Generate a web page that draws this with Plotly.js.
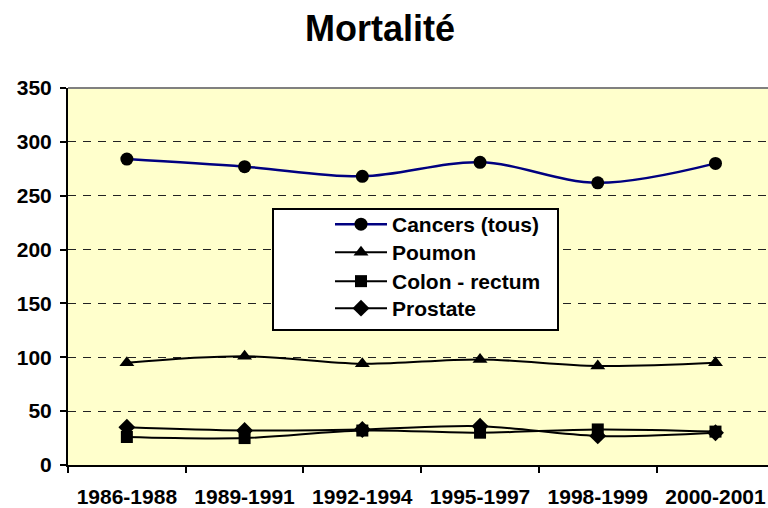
<!DOCTYPE html>
<html>
<head>
<meta charset="utf-8">
<script src="https://cdn.plot.ly/plotly-3.0.1.min.js"></script>
<style>html,body{margin:0;padding:0;background:#fff;overflow:hidden}</style>
</head>
<body>
<div id="chart" style="width:768px;height:508px"></div>
<script>
const categories = ['1986-1988', '1989-1991', '1992-1994', '1995-1997', '1998-1999', '2000-2001'];
const cancers = [284, 277, 268, 281, 262, 280];
const poumon = [95, 101, 94, 98, 92, 95];
const colon = [26, 25, 32, 30, 33, 31];
const prostate = [35, 32, 33, 36, 27, 30];
const yTicks = [0, 50, 100, 150, 200, 250, 300, 350];

const FONT = 'Liberation Sans, Arial, sans-serif';
const W = 768, H = 508, L = 68, R = 0, T = 88, B = 43;
const pw = W - L - R, ph = H - T - B;
function px2x(px) { return (px - L) / pw; }
function py2y(py) { return (H - B - py) / ph; }

function mk(name, y, color, sym, size, width, leg) {
  return {
    type: 'scatter', mode: 'lines+markers', name: name, legend: leg,
    x: categories, y: y,
    line: {color: color, width: width, shape: 'spline', smoothing: 1},
    marker: {color: '#000', symbol: sym, size: size}
  };
}
const data = [
  mk('Cancers (tous)', cancers, '#000080', 'circle', 13, 2.5, 'legend'),
  mk('Poumon', poumon, '#000', 'triangle-up', 13, 2, 'legend2'),
  mk('Colon - rectum', colon, '#000', 'square', 12, 2, 'legend3'),
  mk('Prostate', prostate, '#000', 'diamond', 13, 2, 'legend4')
];

function leg(topPx) {
  return {x: px2x(330), y: py2y(topPx), xanchor: 'left', yanchor: 'top',
          bgcolor: 'rgba(0,0,0,0)', borderwidth: 0, itemwidth: 52,
          font: {family: FONT, size: 21, color: '#000', weight: 'bold'}};
}

const layout = {
  width: W, height: H,
  margin: {l: L, r: R, t: T, b: B, pad: 0},
  paper_bgcolor: '#fff',
  plot_bgcolor: '#FFFFCC',
  font: {family: FONT, size: 21, color: '#000', weight: 'bold'},
  title: {text: 'Mortalité', font: {family: FONT, size: 36, color: '#000', weight: 'bold'},
          x: 380 / W, xanchor: 'center', y: 1 - 28 / H, yanchor: 'middle'},
  showlegend: true,
  legend: leg(204),
  legend2: leg(232),
  legend3: leg(261),
  legend4: leg(288),
  xaxis: {
    type: 'category', categoryorder: 'array', categoryarray: categories,
    range: [-0.5, 5.446], tickson: 'boundaries',
    ticks: 'outside', ticklen: 6, tickwidth: 2, tickcolor: '#000',
    showline: true, linecolor: '#000', linewidth: 2,
    showgrid: false, zeroline: false, fixedrange: true,
    tickfont: {family: FONT, size: 21, color: '#000', weight: 'bold'},
    ticklabelstandoff: 12
  },
  yaxis: {
    range: [0, 350], tickvals: yTicks,
    ticks: 'outside', ticklen: 6, tickwidth: 2, tickcolor: '#000',
    showline: true, linecolor: '#000', linewidth: 2,
    showgrid: true, gridcolor: '#222', gridwidth: 1, griddash: '8px,7px',
    zeroline: false, fixedrange: true,
    tickfont: {family: FONT, size: 21, color: '#000', weight: 'bold'},
    ticklabelstandoff: 4
  },
  shapes: [
    {type: 'line', xref: 'paper', yref: 'paper', x0: 0, x1: 1, y0: 1, y1: 1,
     line: {color: '#808080', width: 2}, layer: 'above'},
    {type: 'rect', xref: 'paper', yref: 'paper',
     x0: px2x(273), x1: px2x(558), y0: py2y(330), y1: py2y(209),
     fillcolor: '#fff', line: {color: '#000', width: 2}, layer: 'above'}
  ]
};

Plotly.newPlot('chart', data, layout, {displayModeBar: false, staticPlot: true});
</script>
</body>
</html>
